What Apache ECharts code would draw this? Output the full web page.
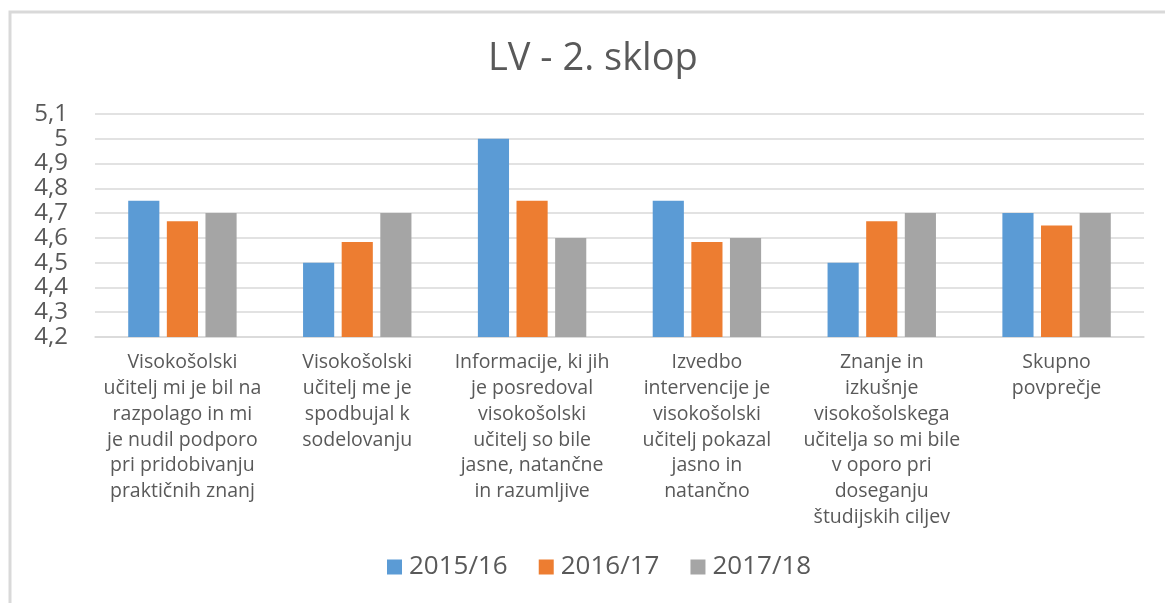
<!DOCTYPE html>
<html>
<head>
<meta charset="utf-8">
<script src="https://cdn.jsdelivr.net/npm/echarts@6/dist/echarts.min.js"></script>
<style>
html,body{margin:0;padding:0;background:#fff;}
#c{width:1165px;height:603px;}
</style>
</head>
<body>
<div id="c"></div>
<script>
const categories = [
  "Visokošolski\nučitelj mi je bil na\nrazpolago in mi\nje nudil podporo\npri pridobivanju\npraktičnih znanj",
  "Visokošolski\nučitelj me je\nspodbujal k\nsodelovanju",
  "Informacije, ki jih\nje posredoval\nvisokošolski\nučitelj so bile\njasne, natančne\nin razumljive",
  "Izvedbo\nintervencije je\nvisokošolski\nučitelj pokazal\njasno in\nnatančno",
  "Znanje in\nizkušnje\nvisokošolskega\nučitelja so mi bile\nv oporo pri\ndoseganju\nštudijskih ciljev",
  "Skupno\npovprečje"
];
const seriesNames = ["2015/16", "2016/17", "2017/18"];
const s2015 = [4.75, 4.5, 5.0, 4.75, 4.5, 4.7];
const s2016 = [4.667, 4.583, 4.75, 4.583, 4.667, 4.65];
const s2017 = [4.7, 4.7, 4.6, 4.6, 4.7, 4.7];
const colors = ["#5B9BD5", "#ED7D31", "#A5A5A5"];
const titleText = "LV - 2. sklop";

const FONT = "Open Sans";
const TXT = "#595959";
const chart = echarts.init(document.getElementById('c'), null, {renderer: 'canvas'});
const data = [s2015, s2016, s2017];
chart.setOption({
  animation: false,
  backgroundColor: '#fff',
  textStyle: {fontFamily: FONT},
  title: {
    text: titleText,
    left: 483,
    top: 35,
    textStyle: {fontFamily: FONT, fontSize: 38, fontWeight: 'normal', color: TXT}
  },
  graphic: [{
    type: 'rect',
    shape: {x: 10, y: 12, width: 1300, height: 800},
    style: {fill: 'none', stroke: '#D9D9D9', lineWidth: 3},
    silent: true,
    z: -1
  }],
  legend: {
    data: seriesNames,
    bottom: 18,
    left: 382,
    itemWidth: 15,
    itemHeight: 15,
    itemGap: 31,
    icon: 'rect',
    textStyle: {fontFamily: FONT, fontSize: 26, color: TXT, padding: [0, 0, 0, 2]}
  },
  grid: {left: 95, right: 21, top: 114, bottom: 266, containLabel: false},
  xAxis: {
    type: 'category',
    data: categories,
    axisTick: {show: false},
    axisLine: {lineStyle: {color: '#D9D9D9', width: 1.5}},
    axisLabel: {
      interval: 0,
      margin: 13,
      fontFamily: FONT,
      fontSize: 19.5,
      lineHeight: 25.7,
      color: TXT,
      align: 'center'
    }
  },
  yAxis: {
    type: 'value',
    min: 4.2,
    max: 5.1,
    interval: 0.1,
    axisLine: {show: false},
    axisTick: {show: false},
    splitLine: {lineStyle: {color: '#D9D9D9', width: 1.5}},
    axisLabel: {
      margin: 27,
      fontFamily: FONT,
      fontSize: 24,
      color: TXT,
      formatter: function (v) {
        const r = Math.round(v * 10) / 10;
        return String(r).replace('.', ',');
      }
    }
  },
  series: seriesNames.map(function (n, i) {
    return {
      name: n,
      type: 'bar',
      data: data[i],
      barGap: '24%',
      barCategoryGap: '38%',
      itemStyle: {color: colors[i]}
    };
  })
});
</script>
</body>
</html>
